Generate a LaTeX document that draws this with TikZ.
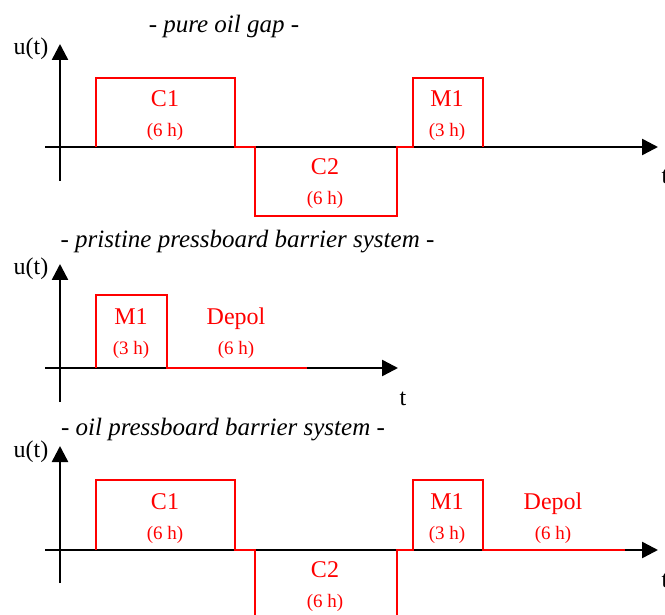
\documentclass[tikz,border=0pt]{standalone}
\usepackage{fontspec}
\setmainfont{Liberation Serif}
\usetikzlibrary{arrows.meta}
\begin{document}
\begin{tikzpicture}[x=1pt,y=-1pt,
 axis/.style={line width=2.5pt, -{Triangle[length=16pt,width=16pt]}},
 sig/.style={red, line width=2.4pt, line join=miter},
 lbl/.style={red, font=\fontsize{24}{28}\selectfont, anchor=base, inner sep=0pt},
 dur/.style={red, font=\fontsize{19}{22}\selectfont, anchor=base, inner sep=0pt},
 ttl/.style={font=\itshape\fontsize{25}{30}\selectfont, anchor=base, inner sep=0pt},
 axl/.style={font=\fontsize{24}{28}\selectfont, anchor=base, inner sep=0pt}]
\useasboundingbox (0,0) rectangle (665,615);
\clip (0,0) rectangle (665,615);

% ---------- panel 1: pure oil gap ----------
\node[ttl] (t1) at (224,33) {- pure oil gap -};
\coordinate (x1s) at (45,147);  \coordinate (x1e) at (658,147);
\coordinate (y1s) at (60,181);  \coordinate (y1e) at (60,44);
\draw[axis] (x1s) -- (x1e);
\draw[axis] (y1s) -- (y1e);
\node[axl] (u1) at (31,55) {u(t)};
\node[axl] (tt1) at (665,184) {t};
\draw[sig] (96,147) -- (96,78) -- (235,78) -- (235,147) -- (255,147) -- (255,216)
  -- (397,216) -- (397,147) -- (413,147) -- (413,78) -- (483,78) -- (483,147);
\node[lbl] (c11) at (165,107) {C1};
\node[dur] (c11d) at (165,137) {(6 h)};
\node[lbl] (c21) at (325,175) {C2};
\node[dur] (c21d) at (325,205) {(6 h)};
\node[lbl] (m11) at (447,107) {M1};
\node[dur] (m11d) at (447,137) {(3 h)};

% ---------- panel 2: pristine pressboard barrier system ----------
\node[ttl] (t2) at (247.5,248) {- pristine pressboard barrier system -};
\coordinate (x2s) at (45,368);  \coordinate (x2e) at (398,368);
\coordinate (y2s) at (60,402);  \coordinate (y2e) at (60,264);
\draw[axis] (x2s) -- (x2e);
\draw[axis] (y2s) -- (y2e);
\node[axl] (u2) at (31,275) {u(t)};
\node[axl] (tt2) at (403,405) {t};
\draw[sig] (96,368) -- (96,295) -- (167,295) -- (167,368) -- (307,368);
\node[lbl] (m12) at (131,324) {M1};
\node[dur] (m12d) at (131,354) {(3 h)};
\node[lbl] (dp2) at (236,324) {Depol};
\node[dur] (dp2d) at (236,354) {(6 h)};

% ---------- panel 3: oil pressboard barrier system ----------
\node[ttl] (t3) at (223,435) {- oil pressboard barrier system -};
\coordinate (x3s) at (45,550);  \coordinate (x3e) at (658,550);
\coordinate (y3s) at (60,583);  \coordinate (y3e) at (60,446);
\draw[axis] (x3s) -- (x3e);
\draw[axis] (y3s) -- (y3e);
\node[axl] (u3) at (31,457) {u(t)};
\node[axl] (tt3) at (665,587) {t};
\draw[sig] (96,550) -- (96,480) -- (235,480) -- (235,550) -- (255,550) -- (255,622)
  -- (397,622) -- (397,550) -- (413,550) -- (413,480) -- (483,480) -- (483,550) -- (625,550);
\node[lbl] (c13) at (165,509) {C1};
\node[dur] (c13d) at (165,539) {(6 h)};
\node[lbl] (c23) at (325,577) {C2};
\node[dur] (c23d) at (325,607) {(6 h)};
\node[lbl] (m13) at (447,509) {M1};
\node[dur] (m13d) at (447,539) {(3 h)};
\node[lbl] (dp3) at (553,509) {Depol};
\node[dur] (dp3d) at (553,539) {(6 h)};
\end{tikzpicture}
\end{document}
